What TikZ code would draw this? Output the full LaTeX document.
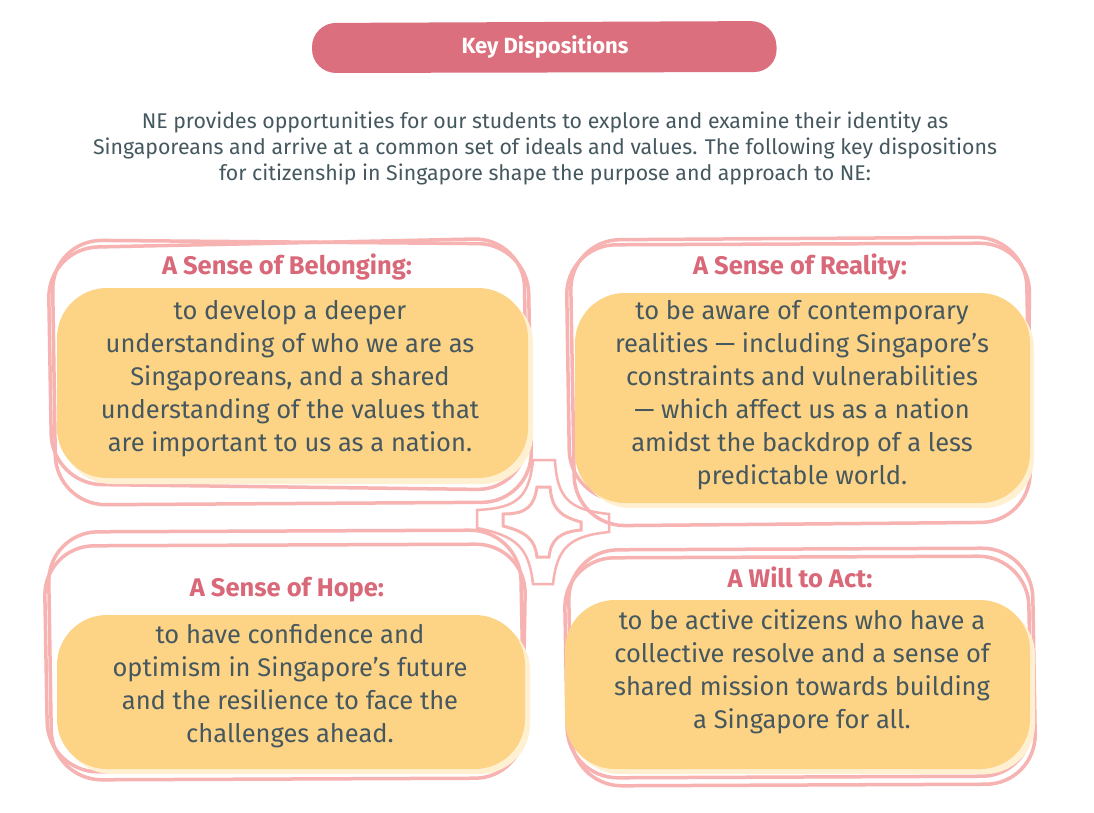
\documentclass[tikz,border=0pt]{standalone}
\usepackage{fontspec}
\setmainfont{Fira Sans}
\definecolor{pinkline}{HTML}{F6B3B1}
\definecolor{rosefill}{HTML}{DB6F7D}
\definecolor{rosetext}{HTML}{D96879}
\definecolor{sandy}{HTML}{FDD385}
\definecolor{cream}{HTML}{FFF0D2}
\definecolor{slate}{HTML}{45585F}
\begin{document}
\begin{tikzpicture}[x=1pt,y=-1pt,
  outline/.style={draw=pinkline, line width=3.5pt, rounded corners=50pt},
  blob/.style={fill=sandy, rounded corners=50pt},
  halo/.style={fill=cream, rounded corners=50pt},
  heading/.style={text=rosetext, font=\fontsize{25.5}{30}\selectfont\bfseries},
  body/.style={text=slate, align=center, font=\fontsize{25.5}{33}\selectfont}]
\useasboundingbox[fill=white] (0,0) rectangle (1094,812);
\fill[rosefill, rounded corners=24pt] (312,23) -- (775,21) -- (778,72) -- (312,73) -- cycle;
\node[text=white, font=\fontsize{22}{26}\selectfont\bfseries] (title) at (545,47){Key Dispositions};
\node[text=slate, align=center, font=\fontsize{21.3}{26}\selectfont] (intro) at (545,148){NE provides opportunities for our students to explore and examine their identity as\\Singaporeans and arrive at a common set of ideals and values. The following key dispositions\\for citizenship in Singapore shape the purpose and approach to NE:};
\draw[outline] (52,240) -- (528,244) -- (532,502) -- (56,505) -- cycle;
\draw[outline] (48,248) -- (524,238) -- (527,490) -- (52,484) -- cycle;
\fill[halo] (62,293) rectangle (533,484);
\fill[blob] (57,288) rectangle (528,478);
\node[heading] (hd1) at (287,267){A Sense of Belonging:};
\node[body] (txt1) at (290,379){to develop a deeper\\understanding of who we are as\\Singaporeans, and a shared\\understanding of the values that\\are important to us as a nation.};
\draw[outline] (570,240) -- (1026,237) -- (1031,522) -- (575,526) -- cycle;
\draw[outline] (566,245) -- (1030,243) -- (1027,505) -- (570,500) -- cycle;
\fill[halo] (580,298) rectangle (1034,508);
\fill[blob] (575,293) rectangle (1030,503);
\node[heading] (hd2) at (800,267){A Sense of Reality:};
\node[body] (txt2) at (802,395){to be aware of contemporary\\realities --- including Singapore’s\\constraints and vulnerabilities\\--- which affect us as a nation\\amidst the backdrop of a less\\predictable world.};
\draw[outline] (48,532) -- (520,530) -- (525,778) -- (52,780) -- cycle;
\draw[outline] (44,546) -- (526,544) -- (522,770) -- (48,772) -- cycle;
\fill[halo] (62,620) rectangle (530,774);
\fill[blob] (57,615) rectangle (525,769);
\node[heading] (hd3) at (287,590){A Sense of Hope:};
\node[body] (txt3) at (290,686){to have confidence and\\optimism in Singapore’s future\\and the resilience to face the\\challenges ahead.};
\draw[outline] (568,550) -- (1032,548) -- (1036,784) -- (572,786) -- cycle;
\draw[outline] (564,558) -- (1028,556) -- (1032,776) -- (568,778) -- cycle;
\fill[halo] (570,605) rectangle (1035,774);
\fill[blob] (565,600) rectangle (1030,769);
\node[heading] (hd4) at (800,577){A Will to Act:};
\node[body] (txt4) at (802,672){to be active citizens who have a\\collective resolve and a sense of\\shared mission towards building\\a Singapore for all.};
\coordinate (star) at (543,524);
\draw[pinkline, line width=2.5pt, shift={(star)}] (-10,-64) -- (12,-64) .. controls (14,-26) and (26,-14) .. (66,-10) -- (66,8) .. controls (26,12) and (14,24) .. (10,60) -- (-10,60) .. controls (-14,24) and (-26,12) .. (-66,4) -- (-66,-14) .. controls (-26,-16) and (-14,-26) .. cycle;
\draw[pinkline, line width=3pt, shift={(star)}] (-6,-37) -- (7,-37) .. controls (9,-16) and (16,-8) .. (38,-2) -- (38,6) .. controls (16,8) and (8,16) .. (6,33) -- (-6,33) .. controls (-8,16) and (-16,8) .. (-40,2) -- (-40,-10) .. controls (-16,-10) and (-9,-18) .. cycle;
\end{tikzpicture}
\end{document}
